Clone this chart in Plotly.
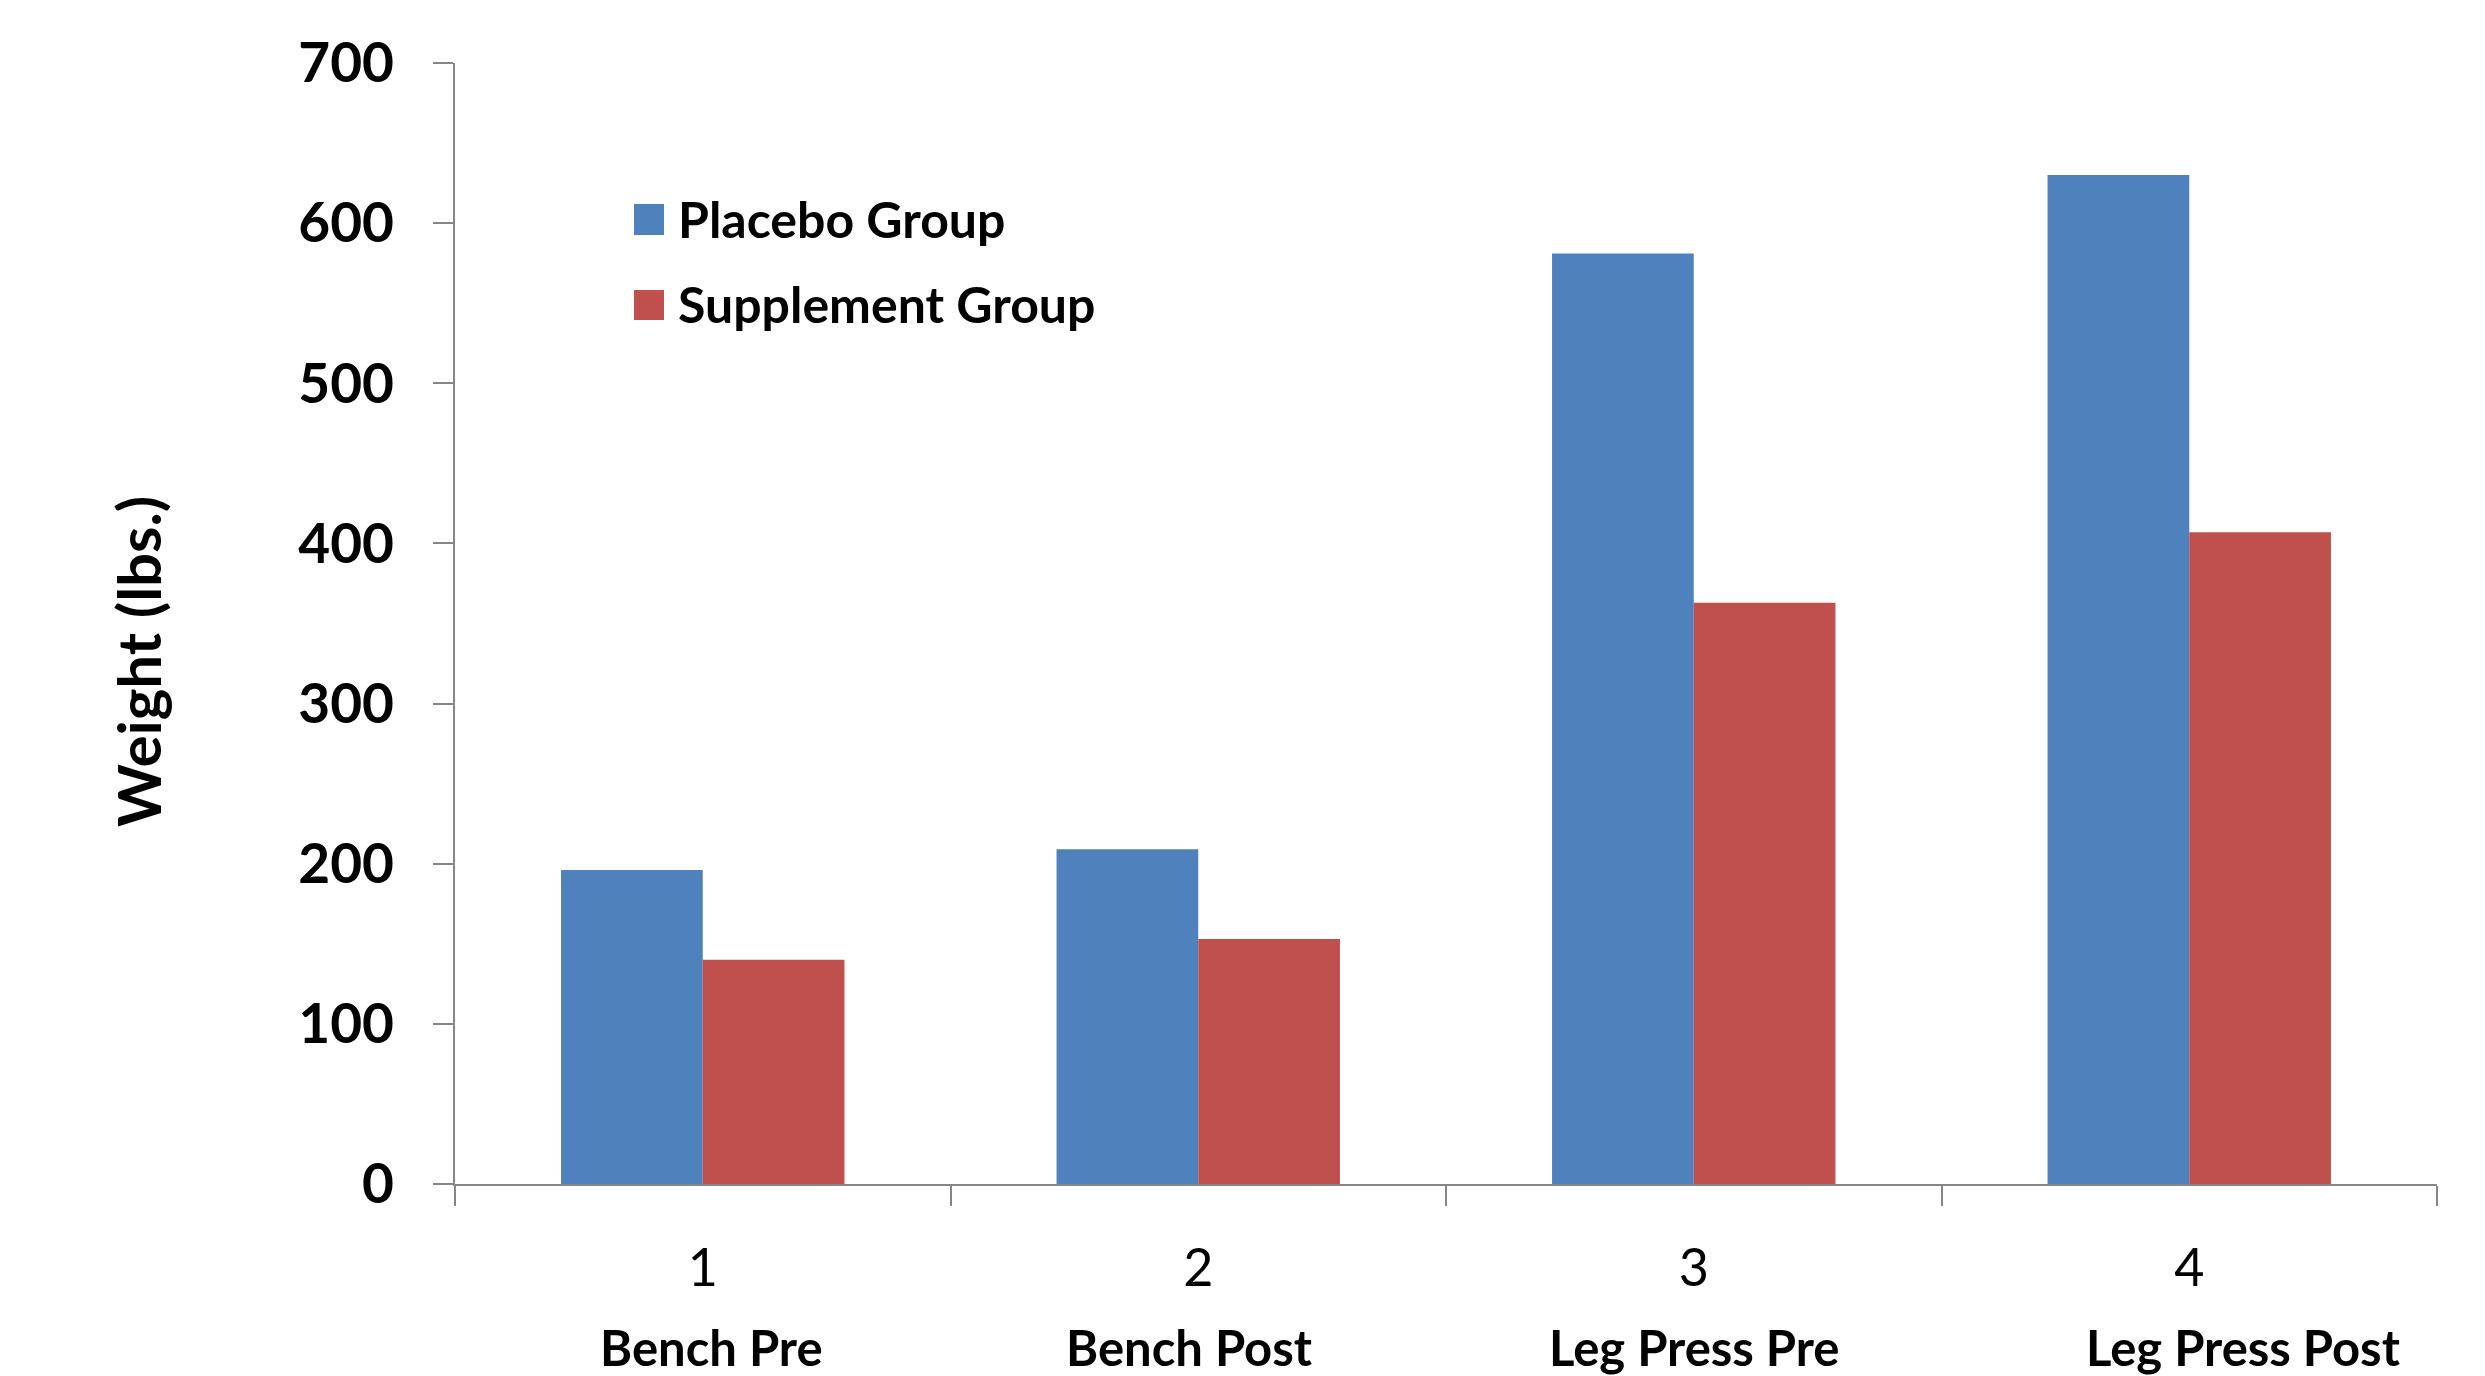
import plotly.graph_objects as go

# Strength results per test, by group
test_numbers = ["1", "2", "3", "4"]
test_names = ["Bench Pre", "Bench Post", "Leg Press Pre", "Leg Press Post"]
placebo = [196, 209, 581, 630]
supplement = [140, 153, 363, 407]
series_names = ["Placebo Group", "Supplement Group"]
y_ticks = [0, 100, 200, 300, 400, 500, 600, 700]

BLUE = "#4F81BD"
RED = "#C0504D"
AXIS = "#868686"
FONT = "Lato"

W, H = 2485, 1376
L, R, T, B = 455, 48, 63, 192
plot_w = W - L - R
plot_h = H - T - B


def px_x(px):
    return (px - L) / plot_w


def px_y(py):
    return (H - B - py) / plot_h


fig = go.Figure()
fig.add_trace(go.Bar(x=test_numbers, y=placebo, name=series_names[0],
                     marker=dict(color=BLUE, line=dict(width=0))))
fig.add_trace(go.Bar(x=test_numbers, y=supplement, name=series_names[1],
                     marker=dict(color=RED, line=dict(width=0))))

# Hand-drawn legend: large square swatches with bold labels
legend_rows = [(BLUE, 204, 235, 219), (RED, 290, 320, 304)]
for (color, top, bottom, mid), name in zip(legend_rows, series_names):
    fig.add_shape(type="rect", xref="paper", yref="paper",
                  x0=px_x(634), x1=px_x(664), y0=px_y(bottom), y1=px_y(top),
                  fillcolor=color, line=dict(width=0))
    fig.add_annotation(xref="paper", yref="paper", x=px_x(676), y=px_y(mid),
                       text=f"<b>{name}</b>", showarrow=False,
                       xanchor="left", yanchor="middle",
                       font=dict(family=FONT, size=50, color="black"))

# Bold test names beneath the numbered categories (x is the category index)
name_shift = [9, -9, 0, 54]
for idx, (label, dx) in enumerate(zip(test_names, name_shift)):
    fig.add_annotation(xref="x", yref="paper", x=idx, y=px_y(1347),
                       xshift=dx, text=f"<b>{label}</b>", showarrow=False,
                       xanchor="center", yanchor="middle",
                       font=dict(family=FONT, size=49, color="black"))

# Y axis title
fig.add_annotation(xref="paper", yref="paper", x=px_x(138), y=px_y(662),
                   text="<b>Weight (lbs.)</b>", textangle=-90, showarrow=False,
                   xanchor="center", yanchor="middle",
                   font=dict(family=FONT, size=60, color="black"))

fig.update_layout(
    width=W, height=H,
    margin=dict(l=L, r=R, t=T, b=B, pad=0),
    paper_bgcolor="white", plot_bgcolor="white",
    barmode="group", bargap=0.428, bargroupgap=0,
    showlegend=False,
    font=dict(family=FONT, color="black"),
)
fig.update_xaxes(
    type="category", tickson="boundaries",
    categoryorder="array", categoryarray=test_numbers,
    range=[-0.5, len(test_numbers) - 0.5],
    showline=True, linecolor=AXIS, linewidth=2,
    ticks="outside", ticklen=20, tickwidth=2, tickcolor=AXIS,
    tickfont=dict(family=FONT, size=52, color="black"),
    ticklabelstandoff=38,
    showgrid=False, zeroline=False,
)
fig.update_yaxes(
    range=[0, 700], tickvals=y_ticks,
    ticktext=[f"<b>{v}</b>" for v in y_ticks],
    showline=True, linecolor=AXIS, linewidth=2,
    ticks="outside", ticklen=20, tickwidth=2, tickcolor=AXIS,
    tickfont=dict(family=FONT, size=55, color="black"),
    ticklabelstandoff=28,
    showgrid=False, zeroline=False,
)

fig.write_html("out.html")
